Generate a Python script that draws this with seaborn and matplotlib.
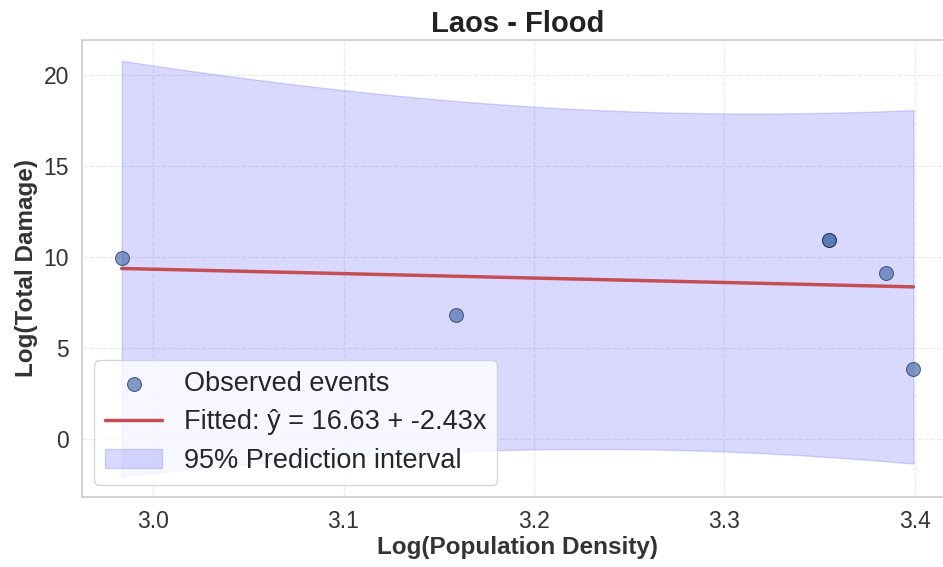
import numpy as np
import matplotlib
matplotlib.use("Agg")
import matplotlib.pyplot as plt
import seaborn as sns

# Flood events in Laos: log population density vs log total damage
log_pop_density = [2.9835, 3.1588, 3.355, 3.355, 3.385, 3.3992]
log_total_damage = [9.97, 6.85, 10.96, 10.96, 9.15, 3.84]

# OLS coefficients reported for the fit
intercept = 16.63
slope = -2.43
t_crit = 2.776  # t(0.975, df=4)

title = "Laos - Flood"
x_label = "Log(Population Density)"
y_label = "Log(Total Damage)"

sns.set_theme(style="whitegrid")
plt.rcParams["font.family"] = ["Liberation Sans", "DejaVu Sans"]

x = np.asarray(log_pop_density)
y = np.asarray(log_total_damage)
n = len(x)

# prediction band around the fitted line
resid = y - (intercept + slope * x)
s = np.sqrt(np.sum(resid ** 2) / (n - 2))
x_mean = x.mean()
sxx = np.sum((x - x_mean) ** 2)
xs = np.linspace(x.min(), x.max(), 200)
ys = intercept + slope * xs
half = t_crit * s * np.sqrt(1 + 1 / n + (xs - x_mean) ** 2 / sxx)

fig, ax = plt.subplots(figsize=(9.43, 5.67), dpi=100)
fig.subplots_adjust(left=0.087, right=1.0106, top=0.9295, bottom=0.1235)

ax.fill_between(xs, ys - half, ys + half, color="blue", alpha=0.15,
                label="95% Prediction interval", zorder=1)
sns.lineplot(x=xs, y=ys, ax=ax, color="#c44e52", linewidth=2.5,
             label=f"Fitted: ŷ = {intercept:.2f} + {slope:.2f}x", zorder=2)
sns.scatterplot(x=x, y=y, ax=ax, s=100, color="#4c72b0", alpha=0.7,
                edgecolor="#1a2240", linewidth=0.7,
                label="Observed events", zorder=3)

ax.set_xticks([3.0, 3.1, 3.2, 3.3, 3.4])
ax.set_yticks([0, 5, 10, 15, 20])
ax.tick_params(labelsize=16.5, colors="#333333")

ax.grid(True, linestyle="--", color="#dcdce6", linewidth=0.9, alpha=0.6)
for sp in ax.spines.values():
    sp.set_color("#cccccc")
    sp.set_linewidth(1.2)

ax.set_title(title, fontsize=21, fontweight="bold", color="#222222", pad=6)
ax.set_xlabel(x_label, fontsize=17.5, fontweight="bold", color="#333333", labelpad=2)
ax.set_ylabel(y_label, fontsize=17.5, fontweight="bold", color="#333333", labelpad=4)

handles, labels = ax.get_legend_handles_labels()
order = [labels.index("Observed events"),
         [i for i, l in enumerate(labels) if l.startswith("Fitted")][0],
         labels.index("95% Prediction interval")]
leg = ax.legend([handles[i] for i in order], [labels[i] for i in order],
                loc="lower left", fontsize=19.5, frameon=True, framealpha=0.8,
                borderaxespad=0.46, handlelength=2.1, labelspacing=0.45,
                borderpad=0.4)
leg.get_frame().set_edgecolor("#cccccc")

fig.savefig("out.png", dpi=100)
